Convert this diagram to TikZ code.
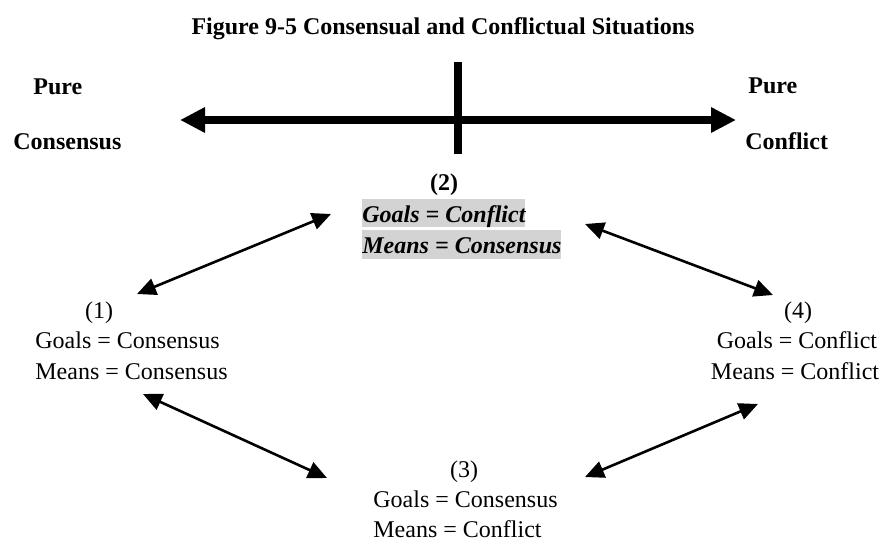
\documentclass[tikz,border=0pt]{standalone}
\usepackage{fontspec}
\setmainfont{Liberation Serif}
\usetikzlibrary{arrows.meta}
\definecolor{hlgray}{RGB}{211,211,211}
\begin{document}
\begin{tikzpicture}[x=0.5pt,y=-0.5pt,
  txt/.style={inner sep=0pt, font=\fontsize{12}{14}\selectfont},
  btxt/.style={inner sep=0pt, font=\fontsize{12}{14}\selectfont\bfseries},
  hltxt/.style={inner ysep=0pt, inner xsep=0pt, fill=hlgray,
    font=\fontsize{12}{14}\selectfont\bfseries\itshape},
  axisline/.style={line width=4pt,
    {Triangle[length=12.5pt,width=12pt]}-{Triangle[length=12.5pt,width=12pt]}},
  link/.style={line width=1.3pt,
    {Triangle[length=9.5pt,width=8.5pt]}-{Triangle[length=9.5pt,width=8.5pt]}}]
\useasboundingbox (0,0) rectangle (885,542);

% title
\node[anchor=base, inner sep=0pt, font=\fontsize{12}{14}\selectfont\bfseries]
  (title) at (443,34) {Figure 9-5 Consensual and Conflictual Situations};

% consensus--conflict axis
\coordinate (axisL) at (180,120);
\coordinate (axisR) at (736,120);
\coordinate (tickT) at (458,62);
\coordinate (tickB) at (458,154);
\draw[axisline] (axisL) -- (axisR);
\draw[line width=4pt] (tickT) -- (tickB);

\node[btxt, anchor=base west] (pureL) at (33,94) {Pure};
\node[btxt, anchor=base west] (consL) at (13,149) {Consensus};
\node[btxt, anchor=base west] (pureR) at (748,93) {Pure};
\node[btxt, anchor=base west] (confR) at (745,149) {Conflict};

% situation (2)
\node[btxt, anchor=base] (n2) at (444,190) {(2)};
\node[hltxt, anchor=base west, text height=11.5pt, text depth=2.5pt]
  (g2) at (362,222) {Goals = Conflict};
\node[hltxt, anchor=base west, text height=11.5pt, text depth=3pt]
  (m2) at (362,253) {Means = Consensus};

% situation (1)
\node[txt, anchor=base] (n1) at (99,318) {(1)};
\node[txt, anchor=base west] (g1) at (35,348) {Goals = Consensus};
\node[txt, anchor=base west] (m1) at (35,379) {Means = Consensus};

% situation (4)
\node[txt, anchor=base] (n4) at (798,318) {(4)};
\node[txt, anchor=base] (g4) at (797,348) {Goals = Conflict};
\node[txt, anchor=base] (m4) at (795,379) {Means = Conflict};

% situation (3)
\node[txt, anchor=base] (n3) at (464,477) {(3)};
\node[txt, anchor=base west] (g3) at (373,507) {Goals = Consensus};
\node[txt, anchor=base west] (m3) at (373,537) {Means = Conflict};

% links between situations
\coordinate (l12a) at (137,294);
\coordinate (l12b) at (331,214);
\coordinate (l24a) at (585,224);
\coordinate (l24b) at (773,295);
\coordinate (l13a) at (143,394);
\coordinate (l13b) at (327,478);
\coordinate (l34a) at (585,477);
\coordinate (l34b) at (758,404);
\draw[link] (l12a) -- (l12b);
\draw[link] (l24a) -- (l24b);
\draw[link] (l13a) -- (l13b);
\draw[link] (l34a) -- (l34b);
\end{tikzpicture}
\end{document}
